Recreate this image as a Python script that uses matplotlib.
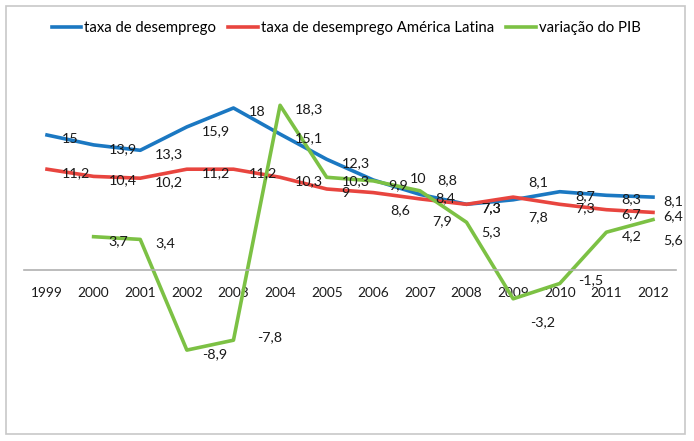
import matplotlib
matplotlib.use("Agg")
import matplotlib.pyplot as plt
from matplotlib.patches import Rectangle

plt.rcParams['font.family'] = ['Lato', 'DejaVu Sans']

# Dados
anos = ['1999', '2000', '2001', '2002', '2003', '2004', '2005',
        '2006', '2007', '2008', '2009', '2010', '2011', '2012']
desemprego = [15, 13.9, 13.3, 15.9, 18, 15.1, 12.3, 10, 8.4, 7.3, 7.8, 8.7, 8.3, 8.1]
desemprego_al = [11.2, 10.4, 10.2, 11.2, 11.2, 10.3, 9, 8.6, 7.9, 7.3, 8.1, 7.3, 6.7, 6.4]
pib = [None, 3.7, 3.4, -8.9, -7.8, 18.3, 10.3, 9.9, 8.8, 5.3, -3.2, -1.5, 4.2, 5.6]

series = [
    ('taxa de desemprego', desemprego, '#1b78c2'),
    ('taxa de desemprego América Latina', desemprego_al, '#e8453f'),
    ('variação do PIB', pib, '#7cc144'),
]

# deslocamentos das etiquetas (pixels) que fogem do padrão
ajustes = {
    (0, 7): (37, 1), (1, 7): (17, -18), (2, 8): (17, 11), (1, 8): (12, -22),
    (2, 9): (15, -10), (1, 10): (15, 15), (0, 10): (15, -17), (2, 10): (17, -23),
    (2, 11): (18, 3), (2, 13): (10, -21), (0, 13): (10, -4), (1, 13): (10, -4),
    (2, 4): (24, 3),
}

W, H = 694, 441
fig = plt.figure(figsize=(W / 100, H / 100), dpi=100)

# moldura
fig.patches.append(Rectangle((6 / W, 1 - 434 / H), 679 / W, 428 / H,
                             transform=fig.transFigure, fill=False,
                             edgecolor='#c8c8c8', linewidth=1.2))

x0, x1 = 23.7, 676.3
ytop, ybot = 90, 405
ax = fig.add_axes([x0 / W, 1 - ybot / H, (x1 - x0) / W, (ybot - ytop) / H])
ax.set_xlim(-0.5, len(anos) - 0.5)
ax.set_ylim(-15, 20)

xs = list(range(len(anos)))
for i, (nome, vals, cor) in enumerate(series):
    px = [x for x, v in zip(xs, vals) if v is not None]
    py = [v for v in vals if v is not None]
    ax.plot(px, py, color=cor, linewidth=2.6, label=nome, solid_joinstyle='round')
    for x, v in zip(px, py):
        dx, dy = ajustes.get((i, x), (15, -4))
        ax.annotate(f"{v:g}".replace('.', ','), (x, v), xytext=(dx, dy),
                    textcoords='offset pixels', ha='left', va='center',
                    fontsize=10.3, color='#1a1a1a')

for s in ['top', 'right', 'left']:
    ax.spines[s].set_visible(False)
ax.spines['bottom'].set_position(('data', 0))
ax.spines['bottom'].set_color('#b0b0b0')
ax.spines['bottom'].set_linewidth(1.2)
ax.set_yticks([])
ax.set_xticks(xs)
ax.set_xticklabels(anos, fontsize=9.8, color='#1a1a1a')
ax.tick_params(axis='x', length=0, pad=12)
ax.patch.set_visible(False)

fig.legend(loc='center', bbox_to_anchor=(346 / W, 1 - 28 / H), ncol=3,
           frameon=False, fontsize=10.7, handlelength=2.0, handletextpad=0.2,
           columnspacing=0.8)

fig.savefig('out.png', dpi=100)
